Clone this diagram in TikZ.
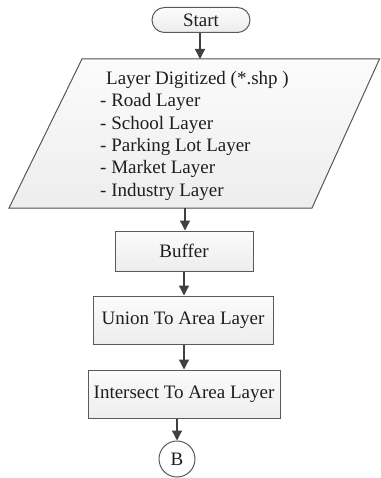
\documentclass[tikz,border=0pt]{standalone}
\usepackage{fontspec}
\setmainfont{Liberation Serif}
\usetikzlibrary{arrows.meta,shapes.misc}
\definecolor{edge}{HTML}{5A5A5A}
\definecolor{arr}{HTML}{404040}
\definecolor{txt}{HTML}{1E1E1E}
\tikzset{
  boxfill/.style={top color=gray!3, bottom color=gray!14, draw=edge, line width=1pt},
  procbox/.style={boxfill, rectangle, inner sep=0pt, text=txt, font=\fontsize{19}{22.4}\selectfont},
  conn/.style={draw=arr, line width=1.3pt, -{Triangle[width=10pt,length=10pt]}}
}
\begin{document}
\begin{tikzpicture}[x=1pt,y=-1pt]
\useasboundingbox (0,0) rectangle (380,478);
% start terminal
\node[procbox, rounded rectangle, minimum width=98pt, minimum height=25pt] (start) at (201,20) {Start};
% parallelogram
\filldraw[boxfill] (82,59) -- (379.5,59) -- (312,208) -- (9,208) -- cycle;
\coordinate (paratop) at (200,59);
\coordinate (parabot) at (185,208);
\node[anchor=north west, align=left, inner sep=0pt, text=txt, font=\fontsize{19}{22.4}\selectfont] (para) at (100,71)
 {\hspace{6pt}Layer Digitized (*.shp )\\- Road Layer\\- School Layer\\- Parking Lot Layer\\- Market Layer\\- Industry Layer};
% boxes
\node[procbox, minimum width=138pt, minimum height=40pt] (buffer) at (184,251) {Buffer};
\node[procbox, minimum width=180pt, minimum height=48pt] (union) at (183,320) {Union To Area Layer};
\node[procbox, minimum width=192pt, minimum height=48pt] (inter) at (184,394) {Intersect To Area Layer};
\node[procbox, circle, minimum size=36pt, top color=white, bottom color=white] (b) at (177,459) {B};
% connectors
\draw[conn] (start.south -| paratop) -- (paratop);
\draw[conn] (parabot) -- (buffer.north -| parabot);
\draw[conn] (buffer.south) -- (buffer.south |- union.north);
\draw[conn] (inter.north |- union.south) -- (inter.north);
\draw[conn] (inter.south -| b.north) -- (b.north);
\end{tikzpicture}
\end{document}
